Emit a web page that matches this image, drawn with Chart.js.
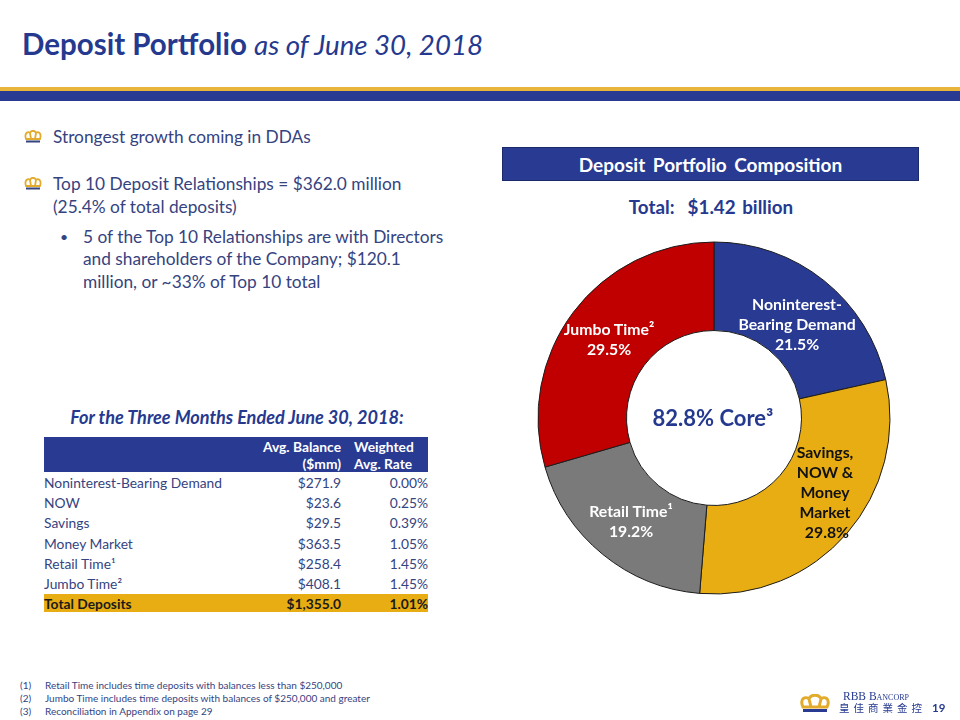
<!DOCTYPE html>
<html>
<head>
  <title>Deposit Portfolio</title>
  <script src="https://cdn.jsdelivr.net/npm/chart.js"></script>
  <style>
    html, body { margin: 0; padding: 0; background: #fff; }
    body { width: 960px; height: 720px; position: relative; overflow: hidden; font-family: Lato, sans-serif; color: #35437f; }
    .t { position: absolute; white-space: nowrap; line-height: 1; }
    .c { transform: translateX(-50%); text-align: center; }
    .band { position: absolute; left: 0; width: 960px; }
    canvas { position: absolute; left: 524px; top: 228px; }
    .lbl { position: absolute; transform: translateX(-50%); text-align: center; font-weight: 700; font-size: 15.8px; line-height: 20px; white-space: nowrap; }
    table { position: absolute; left: 44px; top: 437px; width: 384px; border-collapse: collapse; font-size: 13.8px; table-layout: fixed; }
    th { background: #283a92; color: #fff; font-weight: 700; text-align: right; height: 35px; padding: 0; line-height: 17px; vertical-align: bottom; }
    td { height: 20.35px; padding: 0; text-align: right; }
    td:first-child { text-align: left; }
    tr.total td { background: #e8ad13; color: #1a1a1a; font-weight: 700; height: 18px; }
    .note { position: absolute; left: 20px; font-size: 10px; line-height: 13px; white-space: nowrap; }
    .note span { display: inline-block; width: 25px; }
    .body { font-size: 17.3px; }
  </style>
</head>
<body>
  <div class="t" style="left:22px;top:29px;font-size:29.5px;font-weight:700;color:#25398f">Deposit Portfolio <span style="font-weight:400;font-style:italic;font-size:27.7px">as of June 30, 2018</span></div>
  <div class="band" style="top:87px;height:4px;background:#e8b53a"></div>
  <div class="band" style="top:91px;height:10px;background:#283a92"></div>

  <svg style="position:absolute;left:24px;top:130px" width="18" height="14" viewBox="0 0 18 14">
    <path d="M2 9 C0 3 4 1 6 3 C7 0 11 0 12 3 C14 1 18 3 16 9 Z M6 3 L7 9 M12 3 L11 9" fill="none" stroke="#e3ab2b" stroke-width="1.8"/>
    <rect x="2" y="10.5" width="14" height="2" fill="#35437f"/>
  </svg>
  <svg style="position:absolute;left:24px;top:177px" width="18" height="14" viewBox="0 0 18 14">
    <path d="M2 9 C0 3 4 1 6 3 C7 0 11 0 12 3 C14 1 18 3 16 9 Z M6 3 L7 9 M12 3 L11 9" fill="none" stroke="#e3ab2b" stroke-width="1.8"/>
    <rect x="2" y="10.5" width="14" height="2" fill="#35437f"/>
  </svg>
  <div class="t body" style="left:53px;top:127.5px">Strongest growth coming in DDAs</div>
  <div class="t body" style="left:53px;top:175px">Top 10 Deposit Relationships = $362.0 million</div>
  <div class="t body" style="left:53px;top:198px">(25.4% of total deposits)</div>
  <div class="t" style="left:60px;top:230px;font-size:14px">•</div>
  <div class="t body" style="left:83px;top:228px">5 of the Top 10 Relationships are with Directors</div>
  <div class="t body" style="left:83px;top:250px">and shareholders of the Company; $120.1</div>
  <div class="t body" style="left:83px;top:273px">million, or ~33% of Top 10 total</div>

  <div class="t c" style="left:237px;top:408px;font-size:18.1px;font-weight:700;font-style:italic;color:#25398f">For the Three Months Ended June 30, 2018:</div>
  <table id="tbl"></table>

  <div style="position:absolute;left:502px;top:147px;width:415px;height:32px;background:#283a92;border:1px solid #1b2a6b;color:#fff;font-weight:700;font-size:19px;word-spacing:3px;line-height:34px;text-align:center">Deposit Portfolio Composition</div>
  <div class="t c" style="left:711px;top:198px;font-size:18.8px;font-weight:700;color:#25398f;word-spacing:2px">Total: &nbsp;$1.42 billion</div>

  <canvas id="donut" width="380" height="380"></canvas>
  <div class="t c" style="left:713px;top:407px;font-size:22px;font-weight:700;color:#25398f">82.8% Core³</div>
  <div class="lbl" style="left:797px;top:294px;color:#fff">Noninterest-<br>Bearing Demand<br>21.5%</div>
  <div class="lbl" style="left:825px;top:442px;color:#111">Savings,<br>NOW &amp;<br>Money<br>Market<br>&nbsp;29.8%</div>
  <div class="lbl" style="left:631px;top:501px;color:#fff">Retail Time¹<br>19.2%</div>
  <div class="lbl" style="left:609px;top:319px;color:#fff">Jumbo Time²<br>29.5%</div>

  <div class="note" style="top:679px"><span>(1)</span>Retail Time includes time deposits with balances less than $250,000</div>
  <div class="note" style="top:692px"><span>(2)</span>Jumbo Time includes time deposits with balances of $250,000 and greater</div>
  <div class="note" style="top:705px"><span>(3)</span>Reconciliation in Appendix on page 29</div>

  <svg style="position:absolute;left:799px;top:694px" width="32" height="20" viewBox="0 0 32 20">
    <path d="M4 13 C0 4 7 2 10 5 C12 0 20 0 22 5 C25 2 32 4 28 13 Z M10 5 L12 13 M22 5 L20 13" fill="none" stroke="#e3ab2b" stroke-width="3"/>
    <rect x="4" y="15" width="24" height="3" fill="#283a92"/>
  </svg>
  <div class="t" style="left:843px;top:691px;font-family:'Liberation Serif',serif;font-size:11.5px;font-variant:small-caps;color:#25398f">RBB Bancorp</div>
  <div class="t" style="left:839px;top:703px;font-family:'Noto Sans CJK TC',sans-serif;font-size:10.5px;letter-spacing:4px;color:#25398f">皇佳商業金控</div>
  <div class="t" style="left:932px;top:702px;font-size:11.5px;font-weight:700;color:#25398f">19</div>

  <script>
    const sliceLabels = ['Noninterest-Bearing Demand', 'Savings, NOW & Money Market', 'Retail Time', 'Jumbo Time'];
    const sliceValues = [21.5, 29.8, 19.2, 29.5];
    const sliceColors = ['#283a92', '#e8ad13', '#7a7a7a', '#c00000'];

    const rowNames = ['Noninterest-Bearing Demand', 'NOW', 'Savings', 'Money Market', 'Retail Time¹', 'Jumbo Time²', 'Total Deposits'];
    const avgBalance = ['$271.9', '$23.6', '$29.5', '$363.5', '$258.4', '$408.1', '$1,355.0'];
    const avgRate = ['0.00%', '0.25%', '0.39%', '1.05%', '1.45%', '1.45%', '1.01%'];

    let html = '<colgroup><col style="width:212px"><col style="width:85px"><col style="width:87px"></colgroup>';
    html += '<tr><th></th><th>Avg. Balance<br>($mm)</th><th style="text-align:left;padding-left:13px">Weighted<br>Avg. Rate</th></tr>';
    rowNames.forEach((name, i) => {
      const cls = i === rowNames.length - 1 ? ' class="total"' : '';
      html += '<tr' + cls + '><td>' + name + '</td><td>' + avgBalance[i] + '</td><td>' + avgRate[i] + '</td></tr>';
    });
    document.getElementById('tbl').innerHTML = html;

    new Chart(document.getElementById('donut').getContext('2d'), {
      type: 'doughnut',
      data: {
        labels: sliceLabels,
        datasets: [{
          data: sliceValues,
          backgroundColor: sliceColors,
          borderColor: '#1c1c1c',
          borderWidth: 1
        }]
      },
      options: {
        responsive: false,
        animation: false,
        radius: 176,
        cutout: '49.7%',
        plugins: {
          legend: { display: false },
          tooltip: { enabled: false }
        }
      }
    });
  </script>
</body>
</html>
